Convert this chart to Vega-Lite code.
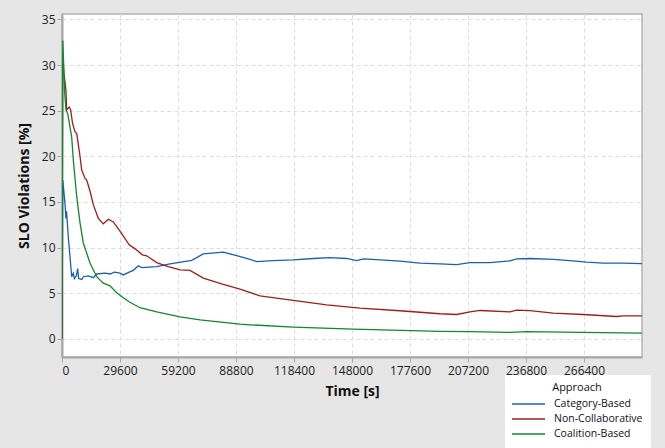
{
  "$schema": "https://vega.github.io/schema/vega-lite/v6.json",
  "autosize": {"type": "none"},
  "padding": {"left": 62, "top": 14, "right": 23, "bottom": 91},
  "width": 580,
  "height": 343,
  "background": "#e6e6e6",
  "config": {
    "font": "Open Sans",
    "view": {"stroke": "#b4b4b4", "strokeWidth": 1.5, "fill": "white"}
  },
  "data": {"values": [
    {"time":0,"slo":0,"approach":"Category-Based"},{"time":400,"slo":17.4,"approach":"Category-Based"},{"time":1500,"slo":14.9,"approach":"Category-Based"},{"time":2000,"slo":13.2,"approach":"Category-Based"},{"time":2300,"slo":14.0,"approach":"Category-Based"},{"time":3200,"slo":11.2,"approach":"Category-Based"},{"time":4950,"slo":6.8,"approach":"Category-Based"},{"time":5770,"slo":7.2,"approach":"Category-Based"},{"time":6300,"slo":6.6,"approach":"Category-Based"},{"time":7300,"slo":6.9,"approach":"Category-Based"},{"time":8010,"slo":7.7,"approach":"Category-Based"},{"time":8500,"slo":6.6,"approach":"Category-Based"},{"time":10050,"slo":6.5,"approach":"Category-Based"},{"time":10870,"slo":6.8,"approach":"Category-Based"},{"time":13420,"slo":6.9,"approach":"Category-Based"},{"time":15970,"slo":6.7,"approach":"Category-Based"},{"time":17700,"slo":7.1,"approach":"Category-Based"},{"time":21940,"slo":7.2,"approach":"Category-Based"},{"time":24490,"slo":7.1,"approach":"Category-Based"},{"time":26690,"slo":7.3,"approach":"Category-Based"},{"time":29600,"slo":7.2,"approach":"Category-Based"},{"time":31280,"slo":7.0,"approach":"Category-Based"},{"time":34300,"slo":7.3,"approach":"Category-Based"},{"time":36380,"slo":7.5,"approach":"Category-Based"},{"time":38930,"slo":8.0,"approach":"Category-Based"},{"time":40670,"slo":7.8,"approach":"Category-Based"},{"time":48320,"slo":7.9,"approach":"Category-Based"},{"time":55110,"slo":8.2,"approach":"Category-Based"},{"time":66190,"slo":8.6,"approach":"Category-Based"},{"time":72110,"slo":9.3,"approach":"Category-Based"},{"time":82310,"slo":9.5,"approach":"Category-Based"},{"time":89150,"slo":9.1,"approach":"Category-Based"},{"time":95940,"slo":8.7,"approach":"Category-Based"},{"time":99360,"slo":8.46,"approach":"Category-Based"},{"time":107830,"slo":8.57,"approach":"Category-Based"},{"time":118030,"slo":8.65,"approach":"Category-Based"},{"time":128240,"slo":8.8,"approach":"Category-Based"},{"time":136760,"slo":8.9,"approach":"Category-Based"},{"time":145280,"slo":8.8,"approach":"Category-Based"},{"time":150380,"slo":8.57,"approach":"Category-Based"},{"time":153750,"slo":8.76,"approach":"Category-Based"},{"time":162270,"slo":8.65,"approach":"Category-Based"},{"time":172480,"slo":8.5,"approach":"Category-Based"},{"time":182680,"slo":8.28,"approach":"Category-Based"},{"time":192890,"slo":8.2,"approach":"Category-Based"},{"time":201410,"slo":8.13,"approach":"Category-Based"},{"time":208200,"slo":8.35,"approach":"Category-Based"},{"time":218410,"slo":8.35,"approach":"Category-Based"},{"time":228610,"slo":8.54,"approach":"Category-Based"},{"time":232030,"slo":8.76,"approach":"Category-Based"},{"time":238820,"slo":8.8,"approach":"Category-Based"},{"time":250710,"slo":8.7,"approach":"Category-Based"},{"time":259230,"slo":8.57,"approach":"Category-Based"},{"time":267750,"slo":8.39,"approach":"Category-Based"},{"time":276220,"slo":8.28,"approach":"Category-Based"},{"time":286420,"slo":8.28,"approach":"Category-Based"},{"time":295970,"slo":8.24,"approach":"Category-Based"},
    {"time":0,"slo":0,"approach":"Non-Collaborative"},{"time":300,"slo":30.9,"approach":"Non-Collaborative"},{"time":1000,"slo":29.1,"approach":"Non-Collaborative"},{"time":2000,"slo":27.3,"approach":"Non-Collaborative"},{"time":2400,"slo":25.1,"approach":"Non-Collaborative"},{"time":3700,"slo":25.4,"approach":"Non-Collaborative"},{"time":4400,"slo":25.1,"approach":"Non-Collaborative"},{"time":5400,"slo":23.6,"approach":"Non-Collaborative"},{"time":6600,"slo":22.7,"approach":"Non-Collaborative"},{"time":7500,"slo":22.5,"approach":"Non-Collaborative"},{"time":9200,"slo":20.0,"approach":"Non-Collaborative"},{"time":10050,"slo":18.5,"approach":"Non-Collaborative"},{"time":11700,"slo":17.6,"approach":"Non-Collaborative"},{"time":12600,"slo":17.4,"approach":"Non-Collaborative"},{"time":14290,"slo":16.2,"approach":"Non-Collaborative"},{"time":15970,"slo":14.7,"approach":"Non-Collaborative"},{"time":18520,"slo":13.2,"approach":"Non-Collaborative"},{"time":21050,"slo":12.6,"approach":"Non-Collaborative"},{"time":23630,"slo":13.1,"approach":"Non-Collaborative"},{"time":26180,"slo":12.8,"approach":"Non-Collaborative"},{"time":29600,"slo":11.8,"approach":"Non-Collaborative"},{"time":34300,"slo":10.3,"approach":"Non-Collaborative"},{"time":37670,"slo":9.8,"approach":"Non-Collaborative"},{"time":41000,"slo":9.2,"approach":"Non-Collaborative"},{"time":43220,"slo":9.1,"approach":"Non-Collaborative"},{"time":48320,"slo":8.35,"approach":"Non-Collaborative"},{"time":54250,"slo":7.9,"approach":"Non-Collaborative"},{"time":60220,"slo":7.55,"approach":"Non-Collaborative"},{"time":65320,"slo":7.5,"approach":"Non-Collaborative"},{"time":72110,"slo":6.65,"approach":"Non-Collaborative"},{"time":82310,"slo":5.95,"approach":"Non-Collaborative"},{"time":90830,"slo":5.44,"approach":"Non-Collaborative"},{"time":101040,"slo":4.7,"approach":"Non-Collaborative"},{"time":118030,"slo":4.2,"approach":"Non-Collaborative"},{"time":135070,"slo":3.72,"approach":"Non-Collaborative"},{"time":152070,"slo":3.36,"approach":"Non-Collaborative"},{"time":172480,"slo":3.07,"approach":"Non-Collaborative"},{"time":192890,"slo":2.74,"approach":"Non-Collaborative"},{"time":201410,"slo":2.66,"approach":"Non-Collaborative"},{"time":208200,"slo":2.95,"approach":"Non-Collaborative"},{"time":213300,"slo":3.1,"approach":"Non-Collaborative"},{"time":228610,"slo":2.95,"approach":"Non-Collaborative"},{"time":232030,"slo":3.14,"approach":"Non-Collaborative"},{"time":238820,"slo":3.08,"approach":"Non-Collaborative"},{"time":250710,"slo":2.8,"approach":"Non-Collaborative"},{"time":266010,"slo":2.66,"approach":"Non-Collaborative"},{"time":283050,"slo":2.44,"approach":"Non-Collaborative"},{"time":286420,"slo":2.5,"approach":"Non-Collaborative"},{"time":295970,"slo":2.5,"approach":"Non-Collaborative"},
    {"time":0,"slo":0,"approach":"Coalition-Based"},{"time":400,"slo":32.7,"approach":"Coalition-Based"},{"time":1400,"slo":26.9,"approach":"Coalition-Based"},{"time":2040,"slo":25.1,"approach":"Coalition-Based"},{"time":3000,"slo":24.6,"approach":"Coalition-Based"},{"time":4080,"slo":23.2,"approach":"Coalition-Based"},{"time":4950,"slo":22.1,"approach":"Coalition-Based"},{"time":5770,"slo":19.6,"approach":"Coalition-Based"},{"time":7500,"slo":15.6,"approach":"Coalition-Based"},{"time":9200,"slo":12.7,"approach":"Coalition-Based"},{"time":10870,"slo":10.5,"approach":"Coalition-Based"},{"time":14290,"slo":8.3,"approach":"Coalition-Based"},{"time":17700,"slo":6.8,"approach":"Coalition-Based"},{"time":21050,"slo":6.1,"approach":"Coalition-Based"},{"time":24490,"slo":5.8,"approach":"Coalition-Based"},{"time":27910,"slo":5.05,"approach":"Coalition-Based"},{"time":31280,"slo":4.5,"approach":"Coalition-Based"},{"time":34700,"slo":4.0,"approach":"Coalition-Based"},{"time":39800,"slo":3.4,"approach":"Coalition-Based"},{"time":48320,"slo":2.95,"approach":"Coalition-Based"},{"time":60220,"slo":2.4,"approach":"Coalition-Based"},{"time":70420,"slo":2.08,"approach":"Coalition-Based"},{"time":90830,"slo":1.6,"approach":"Coalition-Based"},{"time":95940,"slo":1.53,"approach":"Coalition-Based"},{"time":118030,"slo":1.28,"approach":"Coalition-Based"},{"time":148650,"slo":1.06,"approach":"Coalition-Based"},{"time":192890,"slo":0.8,"approach":"Coalition-Based"},{"time":208200,"slo":0.78,"approach":"Coalition-Based"},{"time":228610,"slo":0.69,"approach":"Coalition-Based"},{"time":237130,"slo":0.78,"approach":"Coalition-Based"},{"time":255810,"slo":0.72,"approach":"Coalition-Based"},{"time":295970,"slo":0.62,"approach":"Coalition-Based"}
  ]},
  "mark": {"type": "line", "strokeWidth": 1.3, "clip": true},
  "encoding": {
    "x": {
      "field": "time", "type": "quantitative",
      "scale": {"domain": [0, 296000], "nice": false, "zero": false},
      "axis": {
        "title": "Time [s]", "values": [0,29600,59200,88800,118400,148000,177600,207200,236800,266400],
        "format": "d", "labelFontSize": 12, "labelColor": "#222", "labelPadding": 3,
        "titleFontSize": 14, "titleFontWeight": "bold", "titleColor": "#111", "titlePadding": 8,
        "grid": true, "gridDash": [4,3], "gridColor": "#dcdcdc",
        "domainColor": "#a8a8a8", "domainWidth": 2, "tickColor": "#a8a8a8", "tickSize": 5
      }
    },
    "y": {
      "field": "slo", "type": "quantitative",
      "scale": {"domain": [-2, 35.6], "nice": false, "zero": false},
      "axis": {
        "title": "SLO Violations [%]", "values": [0,5,10,15,20,25,30,35],
        "labelFontSize": 12, "labelColor": "#222", "labelPadding": 2,
        "titleFontSize": 14, "titleFontWeight": "bold", "titleColor": "#111", "titlePadding": 10,
        "grid": true, "gridDash": [4,3], "gridColor": "#dcdcdc",
        "domainColor": "#a8a8a8", "domainWidth": 2, "tickColor": "#a8a8a8", "tickSize": 5
      }
    },
    "color": {
      "field": "approach", "type": "nominal",
      "scale": {
        "domain": ["Category-Based", "Non-Collaborative", "Coalition-Based"],
        "range": ["#1a5fb4", "#a31c1c", "#10892b"]
      },
      "legend": {
        "orient": "none", "legendX": 443, "legendY": 361,
        "title": "Approach", "titleFontWeight": "normal", "titleFontSize": 11, "titleColor": "#111",
        "titleAnchor": "middle", "titleAlign": "center", "titlePadding": 4,
        "labelFontSize": 10.5, "labelColor": "#111", "labelOffset": 28,
        "symbolType": "M-1.17,0H4.33", "symbolSize": 144, "symbolStrokeWidth": 1.5,
        "rowPadding": 2, "padding": 7, "fillColor": "white", "strokeColor": "white"
      }
    }
  }
}
